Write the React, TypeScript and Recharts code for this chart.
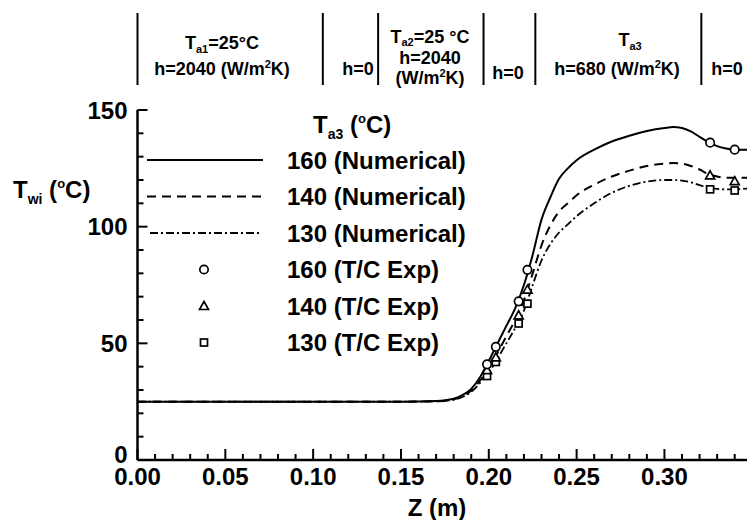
import { ComposedChart, Line, Scatter, XAxis, YAxis } from 'recharts'

const FONT = "'Liberation Sans', Arial, Helvetica, sans-serif"

// numerical wall temperature, T_wi (deg C) along Z (m)
const zNum = [0, 0.05, 0.1, 0.15, 0.17, 0.18, 0.185, 0.19, 0.195, 0.2, 0.205, 0.21, 0.215, 0.22, 0.225, 0.23, 0.235, 0.24, 0.245, 0.25, 0.26, 0.27, 0.28, 0.29, 0.3, 0.305, 0.31, 0.315, 0.32, 0.325, 0.33, 0.335, 0.34, 0.347]
const num160 = [25, 25, 25, 25, 25.3, 26.3, 27.8, 30.5, 35.5, 42.5, 50, 57.5, 65, 75, 88, 103, 112.5, 120.5, 125, 128.5, 133, 136.5, 139, 141, 142.3, 142.7, 142.3, 140.8, 138.5, 136.2, 134.5, 133.5, 133, 133]
const num140 = [25, 25, 25, 25, 25.2, 26, 27.3, 29.8, 34, 39.5, 46, 53, 60, 68.5, 80, 92, 100.5, 106.5, 110, 113.5, 118, 121.5, 124, 126, 127, 127.3, 127, 126, 124.5, 122.5, 121.5, 121, 121, 121]
const num130 = [25, 25, 25, 25, 25.1, 25.8, 27, 29.2, 33, 37.5, 43.5, 50, 56.5, 64, 75, 85.5, 92.5, 97.5, 101, 104.5, 110, 114.5, 117.5, 119.3, 120, 120, 119.7, 119, 117.8, 116.8, 116.2, 116, 116, 116.3]

// thermocouple measurements
const zExp = [0.199, 0.204, 0.217, 0.222, 0.326, 0.34]
const exp160 = [41, 48.5, 68, 81.5, 136, 133]
const exp140 = [38.5, 44, 62, 73, 122, 119.5]
const exp130 = [36, 42, 58.5, 67, 116, 115.5]

const xTicks = Array.from({ length: 35 }, (_, i) => i / 100)
const yTicks = [0, 10, 20, 30, 40, 50, 60, 70, 80, 90, 100, 110, 120, 130, 140, 150]

// boundaries of the cooling / heating zones drawn above the plot
const zoneEdges = [0, 0.1055, 0.137, 0.197, 0.2265, 0.321]

const rows = zNum.map((z, i) => ({ z, t160: num160[i], t140: num140[i], t130: num130[i] }))
const expRows = (vals: number[]) => zExp.map((z, i) => ({ z, t: vals[i] }))

const W = 750
const H = 520
const PLOT = { left: 137.5, right: 747, top: 110, bottom: 460 }
const X_MAX = 0.347
const Y_MAX = 150
const zToPx = (z: number) => PLOT.left + (z / X_MAX) * (PLOT.right - PLOT.left)
const tToPx = (t: number) => PLOT.bottom - (t / Y_MAX) * (PLOT.bottom - PLOT.top)

const DASH = '9 6'
const DASHDOT = '8 3 2 3'

const isMajorX = (v: number) => Math.round(v * 100) % 5 === 0
const isMajorY = (v: number) => v % 50 === 0

const XTick = (props: any) => {
  const { x, y, payload } = props
  const v = payload.value as number
  if (!isMajorX(v)) return <g />
  return (
    <text x={x} y={y + 25} textAnchor="middle" fontSize={24} fontWeight="bold" fontFamily={FONT} fill="#000">
      {v.toFixed(2)}
    </text>
  )
}

const YTick = (props: any) => {
  const { x, y, payload } = props
  const v = payload.value as number
  if (!isMajorY(v)) return <g />
  return (
    <text x={x - 10} y={v === 0 ? y + 3 : y + 8.5} textAnchor="end" fontSize={24} fontWeight="bold" fontFamily={FONT} fill="#000">
      {v}
    </text>
  )
}

// inward tick marks (major longer than minor)
const InnerTicks = () => (
  <g>
    {xTicks.map((v) => (
      <line key={`x${v}`} x1={zToPx(v)} y1={PLOT.bottom} x2={zToPx(v)} y2={PLOT.bottom - (isMajorX(v) ? 11 : 6)} stroke="#000" strokeWidth={2} />
    ))}
    {yTicks.map((v) => (
      <line key={`y${v}`} x1={PLOT.left} y1={tToPx(v)} x2={PLOT.left + (isMajorY(v) ? 10 : 6)} y2={tToPx(v)} stroke="#000" strokeWidth={2} />
    ))}
  </g>
)

const CircleMark = ({ cx, cy }: any) => <circle cx={cx} cy={cy} r={4.2} fill="#fff" stroke="#000" strokeWidth={1.7} />
const TriMark = ({ cx, cy }: any) => (
  <path d={`M${cx},${cy - 4.5} L${cx + 4.5},${cy + 3.5} L${cx - 4.5},${cy + 3.5} Z`} fill="#fff" stroke="#000" strokeWidth={1.7} />
)
const SquareMark = ({ cx, cy }: any) => (
  <rect x={cx - 3.5} y={cy - 3.5} width={7} height={7} fill="#fff" stroke="#000" strokeWidth={1.7} />
)

const Header = () => (
  <g fontFamily={FONT} fontWeight="bold" fill="#000" fontSize={18}>
    {zoneEdges.map((z) => (
      <line key={z} x1={zToPx(z)} y1={13} x2={zToPx(z)} y2={85} stroke="#000" strokeWidth={2} />
    ))}
    <text x={222} y={49} textAnchor="middle">
      T<tspan fontSize={11} dy={4}>a1</tspan><tspan dy={-4}>=25°C</tspan>
    </text>
    <text x={222} y={75} textAnchor="middle">
      h=2040 (W/m<tspan fontSize={11} dy={-7}>2</tspan><tspan dy={7}>K)</tspan>
    </text>
    <text x={358} y={75} textAnchor="middle">h=0</text>
    <text x={430} y={43} textAnchor="middle">
      T<tspan fontSize={11} dy={3}>a2</tspan><tspan dy={-3}>=25 °C</tspan>
    </text>
    <text x={430} y={64} textAnchor="middle">h=2040</text>
    <text x={430} y={84} textAnchor="middle">
      (W/m<tspan fontSize={11} dy={-7}>2</tspan><tspan dy={7}>K)</tspan>
    </text>
    <text x={508} y={79} textAnchor="middle">h=0</text>
    <text x={630} y={46} textAnchor="middle">
      T<tspan fontSize={11} dy={4}>a3</tspan>
    </text>
    <text x={617} y={75} textAnchor="middle">
      h=680 (W/m<tspan fontSize={11} dy={-7}>2</tspan><tspan dy={7}>K)</tspan>
    </text>
    <text x={727} y={75} textAnchor="middle">h=0</text>
  </g>
)

const legendRows = [
  { label: '160 (Numerical)', kind: 'solid' },
  { label: '140 (Numerical)', kind: 'dash' },
  { label: '130 (Numerical)', kind: 'dashdot' },
  { label: '160 (T/C Exp)', kind: 'circle' },
  { label: '140 (T/C Exp)', kind: 'tri' },
  { label: '130 (T/C Exp)', kind: 'square' },
]

const Legend = () => (
  <g fontFamily={FONT} fontWeight="bold" fill="#000" fontSize={24}>
    <text x={313} y={133}>
      T<tspan fontSize={14} dy={6}>a3</tspan><tspan dy={-6}> (</tspan><tspan fontSize={13} dy={-10}>o</tspan><tspan dy={10}>C)</tspan>
    </text>
    {legendRows.map((r, i) => {
      const cy = 160 + i * 36.5
      let sample = null
      if (r.kind === 'solid') sample = <line x1={147} y1={cy} x2={263} y2={cy} stroke="#000" strokeWidth={2} />
      if (r.kind === 'dash') sample = <line x1={147} y1={cy} x2={263} y2={cy} stroke="#000" strokeWidth={2} strokeDasharray={DASH} />
      if (r.kind === 'dashdot') sample = <line x1={150} y1={cy} x2={262} y2={cy} stroke="#000" strokeWidth={1.8} strokeDasharray={DASHDOT} />
      if (r.kind === 'circle') sample = <CircleMark cx={204} cy={cy} />
      if (r.kind === 'tri') sample = <TriMark cx={204} cy={cy} />
      if (r.kind === 'square') sample = <SquareMark cx={204} cy={cy} />
      return (
        <g key={r.label}>
          {sample}
          <text x={287} y={cy + 8.5}>{r.label}</text>
        </g>
      )
    })}
  </g>
)

export default function App() {
  return (
    <div style={{ position: 'absolute', left: 0, top: 0, width: W, height: H, background: '#fff' }}>
      <ComposedChart
        width={W}
        height={H}
        data={rows}
        margin={{ top: PLOT.top, right: W - PLOT.right, bottom: 0, left: 0 }}
      >
        <XAxis
          type="number"
          dataKey="z"
          domain={[0, X_MAX]}
          ticks={xTicks}
          interval={0}
          allowDataOverflow
          height={H - PLOT.bottom}
          tickSize={0}
          tickMargin={0}
          tickLine={false}
          tick={XTick}
          axisLine={{ stroke: '#000', strokeWidth: 2.5 }}
        />
        <YAxis
          type="number"
          domain={[0, Y_MAX]}
          ticks={yTicks}
          interval={0}
          width={PLOT.left}
          tickSize={0}
          tickMargin={0}
          tickLine={false}
          tick={YTick}
          axisLine={{ stroke: '#000', strokeWidth: 2.5 }}
        />
        <Line type="monotone" dataKey="t160" stroke="#000" strokeWidth={2} dot={false} isAnimationActive={false} />
        <Line type="monotone" dataKey="t140" stroke="#000" strokeWidth={2} strokeDasharray={DASH} dot={false} isAnimationActive={false} />
        <Line type="monotone" dataKey="t130" stroke="#000" strokeWidth={1.8} strokeDasharray={DASHDOT} dot={false} isAnimationActive={false} />
        <Scatter data={expRows(exp130)} dataKey="t" shape={SquareMark} isAnimationActive={false} />
        <Scatter data={expRows(exp140)} dataKey="t" shape={TriMark} isAnimationActive={false} />
        <Scatter data={expRows(exp160)} dataKey="t" shape={CircleMark} isAnimationActive={false} />
      </ComposedChart>
      <svg width={W} height={H} style={{ position: 'absolute', left: 0, top: 0, pointerEvents: 'none' }}>
        <InnerTicks />
        <Header />
        <Legend />
        <text x={13} y={198} fontFamily={FONT} fontWeight="bold" fontSize={24} fill="#000">
          T<tspan fontSize={14} dy={6}>wi</tspan><tspan dy={-6}> (</tspan><tspan fontSize={13} dy={-10}>o</tspan><tspan dy={10}>C)</tspan>
        </text>
        <text x={437} y={516} textAnchor="middle" fontFamily={FONT} fontWeight="bold" fontSize={24} fill="#000">
          Z (m)
        </text>
      </svg>
    </div>
  )
}
